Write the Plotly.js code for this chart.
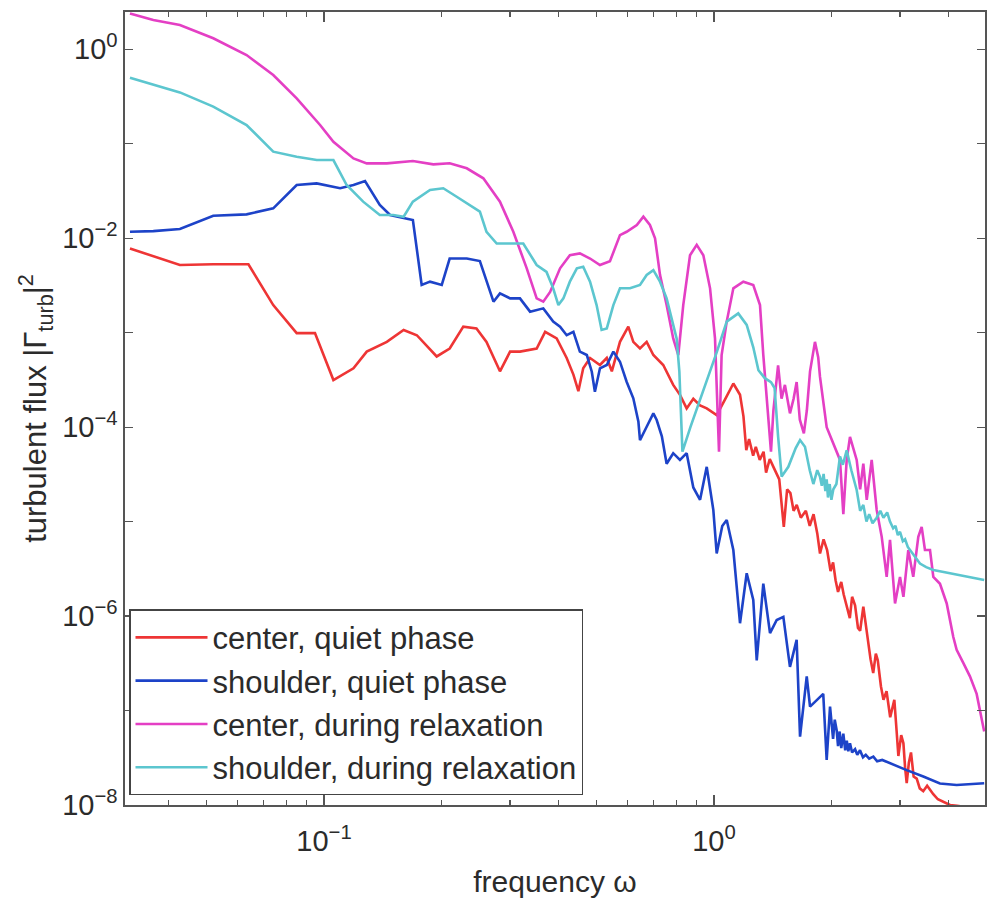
<!DOCTYPE html>
<html>
<head>
<meta charset="utf-8">
<script src="https://cdn.plot.ly/plotly-3.0.1.min.js"></script>
<style>
  html, body { margin: 0; padding: 0; background: #fff; }
  #chart { width: 992px; height: 904px; }
</style>
</head>
<body>
<div id="chart"></div>
<script>
// ---- data (frequency ω, |Γturb|²) ----
const seriesNames = [
  "center, quiet phase",
  "shoulder, quiet phase",
  "center, during relaxation",
  "shoulder, during relaxation"
];

const centerQuietX = [0.0318, 0.0365, 0.0427, 0.052, 0.064, 0.0741, 0.0851, 0.0948, 0.1057, 0.119, 0.1287, 0.1449, 0.160, 0.173, 0.1945, 0.210, 0.2276, 0.246, 0.261, 0.2826, 0.300, 0.318, 0.351, 0.369, 0.395, 0.419, 0.436, 0.449, 0.462, 0.481, 0.510, 0.531, 0.547, 0.574, 0.603, 0.621, 0.646, 0.672, 0.699, 0.741, 0.786, 0.818, 0.851, 0.885, 0.921, 0.958, 1.016, 1.07, 1.121, 1.166, 1.19, 1.21, 1.23, 1.26, 1.28, 1.31, 1.34, 1.36, 1.39, 1.42, 1.45, 1.47, 1.51, 1.54, 1.57, 1.60, 1.63, 1.67, 1.72, 1.76, 1.80, 1.84, 1.87, 1.91, 1.95, 1.99, 2.02, 2.05, 2.08, 2.12, 2.15, 2.19, 2.23, 2.26, 2.30, 2.34, 2.37, 2.415, 2.47, 2.52, 2.56, 2.60, 2.63, 2.68, 2.72, 2.77, 2.83, 2.90, 2.94, 2.97, 3.02, 3.06, 3.09, 3.12, 3.16, 3.20, 3.25, 3.31, 3.37, 3.44, 3.52, 3.65, 3.75, 3.85, 3.95, 4.03, 4.2, 4.36];
const centerQuietY = [7.8e-3, 6.4e-3, 5.2e-3, 5.3e-3, 5.3e-3, 1.96e-3, 9.9e-4, 9.9e-4, 3.15e-4, 4.2e-4, 6.3e-4, 8.0e-4, 1.07e-3, 9.4e-4, 5.6e-4, 6.8e-4, 1.16e-3, 1.11e-3, 8.0e-4, 3.9e-4, 6.3e-4, 6.3e-4, 6.8e-4, 1.02e-3, 8.7e-4, 5.4e-4, 3.6e-4, 2.4e-4, 4.2e-4, 5.4e-4, 4.55e-4, 5.4e-4, 3.9e-4, 8.0e-4, 1.16e-3, 8.0e-4, 6.8e-4, 8.0e-4, 5.8e-4, 4.55e-4, 2.8e-4, 2.2e-4, 1.58e-4, 2.0e-4, 1.7e-4, 1.58e-4, 1.34e-4, 2.0e-4, 2.9e-4, 2.2e-4, 1.3e-4, 5.7e-5, 7.5e-5, 5.0e-5, 6.2e-5, 4.5e-5, 5.5e-5, 3.3e-5, 4.6e-5, 3.8e-5, 3.2e-5, 2.8e-5, 8.8e-6, 2.2e-5, 2.0e-5, 1.3e-5, 1.5e-5, 1.1e-5, 1.3e-5, 9.0e-6, 1.2e-5, 7.5e-6, 4.6e-6, 6.5e-6, 5.0e-6, 3.0e-6, 3.7e-6, 2.4e-6, 1.8e-6, 2.3e-6, 1.7e-6, 1.3e-6, 9.5e-7, 1.6e-6, 1.3e-6, 7.5e-7, 7.0e-7, 1.26e-6, 6.0e-7, 3.5e-7, 2.5e-7, 4.0e-7, 3.4e-7, 1.8e-7, 1.3e-7, 1.6e-7, 8.5e-8, 1.3e-7, 6.0e-8, 3.3e-8, 5.5e-8, 4.5e-8, 2.5e-8, 1.7e-8, 2.8e-8, 3.6e-8, 2.0e-8, 1.9e-8, 1.5e-8, 1.4e-8, 1.6e-8, 1.3e-8, 1.15e-8, 1.1e-8, 1.05e-8, 1.0e-8, 9.8e-9, 9.6e-9];

const shoulderQuietX = [0.0318, 0.0365, 0.0427, 0.052, 0.0633, 0.0741, 0.0851, 0.0958, 0.110, 0.119, 0.1274, 0.139, 0.1477, 0.163, 0.169, 0.178, 0.187, 0.2004, 0.210, 0.2323, 0.251, 0.272, 0.2826, 0.300, 0.318, 0.3376, 0.365, 0.387, 0.403, 0.419, 0.436, 0.453, 0.472, 0.486, 0.495, 0.510, 0.531, 0.552, 0.574, 0.597, 0.621, 0.640, 0.646, 0.672, 0.699, 0.713, 0.735, 0.756, 0.786, 0.818, 0.851, 0.885, 0.921, 0.958, 0.996, 1.016, 1.05, 1.078, 1.121, 1.166, 1.213, 1.261, 1.287, 1.338, 1.392, 1.448, 1.506, 1.566, 1.629, 1.662, 1.729, 1.763, 1.833, 1.906, 1.945, 1.984, 2.02, 2.04, 2.063, 2.08, 2.10, 2.12, 2.146, 2.17, 2.19, 2.21, 2.232, 2.26, 2.30, 2.33, 2.368, 2.41, 2.45, 2.50, 2.562, 2.62, 2.70, 2.827, 3.119, 3.441, 3.797, 4.19, 4.81, 4.93];
const shoulderQuietY = [1.17e-2, 1.19e-2, 1.25e-2, 1.73e-2, 1.79e-2, 2.07e-2, 3.66e-2, 3.81e-2, 3.38e-2, 3.66e-2, 4.03e-2, 2.25e-2, 1.76e-2, 1.62e-2, 1.56e-2, 3.2e-3, 3.47e-3, 3.2e-3, 6.1e-3, 6.1e-3, 5.74e-3, 2.13e-3, 2.61e-3, 2.31e-3, 2.31e-3, 1.67e-3, 1.81e-3, 1.31e-3, 1.16e-3, 9.4e-4, 1.02e-3, 6.3e-4, 5.8e-4, 3.86e-4, 2.37e-4, 4.2e-4, 4.55e-4, 6.3e-4, 4.93e-4, 3.03e-4, 2.02e-4, 1.14e-4, 7.3e-5, 1.01e-4, 1.4e-4, 1.19e-4, 8.0e-5, 4.1e-5, 5.3e-5, 4.5e-5, 5.3e-5, 2.3e-5, 1.7e-5, 3.8e-5, 1.33e-5, 4.6e-6, 9.0e-6, 1.04e-5, 5.0e-6, 8.4e-7, 2.84e-6, 1.48e-6, 3.4e-7, 2.2e-6, 6.6e-7, 9.1e-7, 9.8e-7, 2.9e-7, 5.6e-7, 5.3e-8, 2.3e-7, 1.1e-7, 1.3e-7, 1.5e-7, 3.0e-8, 1.1e-7, 5.0e-8, 8.0e-8, 6.2e-8, 4.2e-8, 6.0e-8, 4.0e-8, 5.7e-8, 3.8e-8, 4.8e-8, 3.7e-8, 4.5e-8, 3.6e-8, 3.9e-8, 3.4e-8, 3.8e-8, 3.2e-8, 3.4e-8, 3.1e-8, 3.25e-8, 2.9e-8, 3.0e-8, 2.76e-8, 2.34e-8, 2.0e-8, 1.69e-8, 1.63e-8, 1.69e-8, 1.7e-8];

const centerRelaxX = [0.0318, 0.0365, 0.0427, 0.052, 0.0633, 0.0741, 0.0851, 0.0977, 0.1057, 0.119, 0.1287, 0.1449, 0.169, 0.1907, 0.210, 0.2323, 0.2562, 0.2826, 0.3058, 0.331, 0.351, 0.365, 0.38, 0.403, 0.427, 0.453, 0.481, 0.510, 0.541, 0.574, 0.597, 0.634, 0.659, 0.685, 0.706, 0.727, 0.756, 0.786, 0.810, 0.834, 0.868, 0.903, 0.939, 0.977, 1.006, 1.03, 1.046, 1.078, 1.121, 1.189, 1.261, 1.312, 1.338, 1.37, 1.40, 1.42, 1.46, 1.49, 1.52, 1.566, 1.60, 1.629, 1.66, 1.70, 1.73, 1.763, 1.815, 1.85, 1.87, 1.945, 2.023, 2.104, 2.146, 2.189, 2.232, 2.322, 2.37, 2.415, 2.464, 2.537, 2.613, 2.692, 2.772, 2.827, 2.912, 2.999, 3.06, 3.149, 3.243, 3.341, 3.408, 3.475, 3.58, 3.651, 3.797, 3.951, 4.108, 4.19, 4.357, 4.532, 4.715, 4.857, 4.93];
const centerRelaxY = [2.40, 2.04, 1.81, 1.31, 0.87, 0.535, 0.303, 0.158, 0.105, 0.070, 0.062, 0.062, 0.0657, 0.0606, 0.0621, 0.055, 0.0431, 0.0244, 0.0117, 4.8e-3, 2.31e-3, 2.13e-3, 2.7e-3, 4.8e-3, 6.6e-3, 6.9e-3, 6.1e-3, 5.2e-3, 5.7e-3, 1.08e-2, 1.17e-2, 1.38e-2, 1.69e-2, 1.38e-2, 1.0e-2, 4.1e-3, 1.96e-3, 8.7e-4, 5.8e-4, 1.96e-3, 6.6e-3, 8.5e-3, 6.6e-3, 2.95e-3, 8.7e-4, 5.5e-5, 5.8e-4, 1.31e-3, 2.95e-3, 3.47e-3, 3.2e-3, 1.96e-3, 5.8e-4, 1.5e-4, 5.5e-5, 1.5e-4, 4.5e-4, 2.0e-4, 2.8e-4, 1.4e-4, 2.0e-4, 3.0e-4, 1.2e-4, 8.6e-5, 1.5e-4, 3.9e-4, 8.0e-4, 5.5e-4, 3.4e-4, 1.0e-4, 6.8e-5, 4.5e-5, 1.2e-5, 4.5e-5, 7.9e-5, 4.5e-5, 2.2e-5, 4.1e-5, 1.7e-5, 4.5e-5, 1.33e-5, 6.9e-6, 2.6e-6, 6.4e-6, 1.36e-6, 2.6e-6, 1.6e-6, 5.0e-6, 2.6e-6, 6.9e-6, 8.8e-6, 5.0e-6, 5.0e-6, 2.6e-6, 2.2e-6, 1.36e-6, 6.0e-7, 4.4e-7, 3.2e-7, 2.3e-7, 1.5e-7, 8.6e-8, 6.0e-8];

const shoulderRelaxX = [0.0318, 0.0365, 0.0427, 0.052, 0.0633, 0.0741, 0.0851, 0.0958, 0.1057, 0.1143, 0.126, 0.139, 0.1506, 0.160, 0.169, 0.187, 0.2022, 0.2189, 0.2368, 0.251, 0.261, 0.2772, 0.3058, 0.3243, 0.351, 0.372, 0.387, 0.399, 0.411, 0.427, 0.445, 0.462, 0.481, 0.500, 0.515, 0.531, 0.552, 0.574, 0.609, 0.646, 0.672, 0.699, 0.727, 0.756, 0.786, 0.802, 0.815, 0.83, 0.87, 0.921, 0.97, 1.016, 1.078, 1.154, 1.213, 1.261, 1.30, 1.35, 1.40, 1.43, 1.46, 1.491, 1.551, 1.62, 1.662, 1.711, 1.76, 1.798, 1.84, 1.869, 1.89, 1.91, 1.93, 1.945, 1.96, 1.98, 2.00, 2.023, 2.06, 2.104, 2.14, 2.189, 2.25, 2.322, 2.37, 2.415, 2.46, 2.5, 2.55, 2.613, 2.67, 2.72, 2.78, 2.827, 2.88, 2.92, 2.96, 2.999, 3.05, 3.09, 3.14, 3.180, 3.25, 3.374, 3.5, 3.651, 3.85, 4.029, 4.446, 4.93];
const shoulderRelaxY = [0.50, 0.42, 0.35, 0.247, 0.158, 0.0825, 0.073, 0.0673, 0.0673, 0.0366, 0.0244, 0.0176, 0.0176, 0.0169, 0.0244, 0.0324, 0.0338, 0.0275, 0.0225, 0.0191, 0.0117, 8.8e-3, 8.8e-3, 8.8e-3, 5.2e-3, 4.4e-3, 2.95e-3, 1.96e-3, 2.31e-3, 3.47e-3, 4.8e-3, 5.0e-3, 3.47e-3, 1.96e-3, 1.07e-3, 1.11e-3, 1.96e-3, 2.95e-3, 2.95e-3, 3.2e-3, 4.08e-3, 4.6e-3, 3.47e-3, 2.31e-3, 1.21e-3, 8.7e-4, 3.9e-4, 5.5e-5, 1.0e-4, 1.94e-4, 3.6e-4, 6.2e-4, 1.31e-3, 1.6e-3, 1.21e-3, 7.0e-4, 4.0e-4, 3.3e-4, 3.0e-4, 2.6e-4, 8.0e-5, 3.0e-5, 3.8e-5, 6.0e-5, 7.3e-5, 6.2e-5, 3.5e-5, 2.5e-5, 3.5e-5, 3.0e-5, 2.4e-5, 3.2e-5, 2.1e-5, 2.8e-5, 1.8e-5, 2.5e-5, 1.7e-5, 2.2e-5, 2.5e-5, 4.9e-5, 4.0e-5, 5.7e-5, 3.5e-5, 2.16e-5, 1.3e-5, 1.5e-5, 1.0e-5, 1.2e-5, 9.6e-6, 1.1e-5, 1.3e-5, 1.1e-5, 1.25e-5, 1.0e-5, 8.5e-6, 9.0e-6, 7.2e-6, 7.8e-6, 6.2e-6, 6.5e-6, 5.4e-6, 5.0e-6, 4.4e-6, 3.6e-6, 3.3e-6, 3.08e-6, 2.95e-6, 2.84e-6, 2.61e-6, 2.41e-6];

const seriesColors = ["#ee3535", "#1d43c8", "#e43fc4", "#5cc6cf"];

const xTickVals = [0.1, 1];
const xTickText = ["10<sup>\u22121</sup>", "10<sup>0</sup>"];
const xMinorVals = [0.04, 0.05, 0.06, 0.07, 0.08, 0.09, 0.2, 0.3, 0.4, 0.5, 0.6, 0.7, 0.8, 0.9, 2, 3, 4];
const yTickVals = [1, 1e-2, 1e-4, 1e-6, 1e-8];
const yTickText = ["10<sup>0</sup>", "10<sup>\u22122</sup>", "10<sup>\u22124</sup>", "10<sup>\u22126</sup>", "10<sup>\u22128</sup>"];
const yMinorVals = [1e-1, 1e-3, 1e-5, 1e-7];

const xs = [centerQuietX, shoulderQuietX, centerRelaxX, shoulderRelaxX];
const ys = [centerQuietY, shoulderQuietY, centerRelaxY, shoulderRelaxY];

const traces = seriesNames.map((name, i) => ({
  type: "scatter",
  mode: "lines",
  name: name,
  x: xs[i],
  y: ys[i],
  line: { color: seriesColors[i], width: 2.6 },
  hoverinfo: "skip"
}));

const axisColor = "#555";
const textColor = "#2b2b2b";
const fontFamily = "Liberation Sans, Arial, Helvetica, sans-serif";

const layout = {
  width: 992,
  height: 904,
  margin: { l: 125, r: 7, t: 12, b: 99 },
  paper_bgcolor: "#ffffff",
  plot_bgcolor: "#ffffff",
  font: { family: fontFamily, color: textColor, size: 28 },
  showlegend: true,
  legend: {
    x: 0.005, y: 0.012, xanchor: "left", yanchor: "bottom",
    bgcolor: "#ffffff", bordercolor: "#444", borderwidth: 1.2,
    font: { family: fontFamily, size: 31, color: textColor },
    itemwidth: 72
  },
  xaxis: {
    type: "log",
    range: [-1.5103, 0.6949],
    showline: true, linecolor: axisColor, linewidth: 1.6, mirror: "ticks",
    showgrid: false, zeroline: false,
    ticks: "inside", ticklen: 10, tickwidth: 1.3, tickcolor: axisColor,
    tickmode: "array", tickvals: xTickVals, ticktext: xTickText,
    ticklabelstandoff: 10,
    tickfont: { size: 29, color: textColor },
    minor: { tickmode: "array", tickvals: xMinorVals, ticks: "inside", ticklen: 5, tickwidth: 1.2, tickcolor: axisColor, showgrid: false },
    title: { text: "frequency \u03c9", font: { size: 30, color: textColor }, standoff: 14 }
  },
  yaxis: {
    type: "log",
    range: [-8.0, 0.395],
    showline: true, linecolor: axisColor, linewidth: 1.6, mirror: "ticks",
    showgrid: false, zeroline: false,
    ticks: "inside", ticklen: 8, tickwidth: 1.3, tickcolor: axisColor,
    tickmode: "array", tickvals: yTickVals, ticktext: yTickText,
    tickfont: { size: 29, color: textColor },
    minor: { tickmode: "array", tickvals: yMinorVals, ticks: "inside", ticklen: 8, tickwidth: 1.2, tickcolor: axisColor, showgrid: false },
    title: { text: "turbulent flux |\u0393<sub>turb</sub>|<sup>2</sup>", font: { size: 31, color: textColor }, standoff: 6 }
  }
};

Plotly.newPlot("chart", traces, layout, { displayModeBar: false, staticPlot: true });
</script>
</body>
</html>
